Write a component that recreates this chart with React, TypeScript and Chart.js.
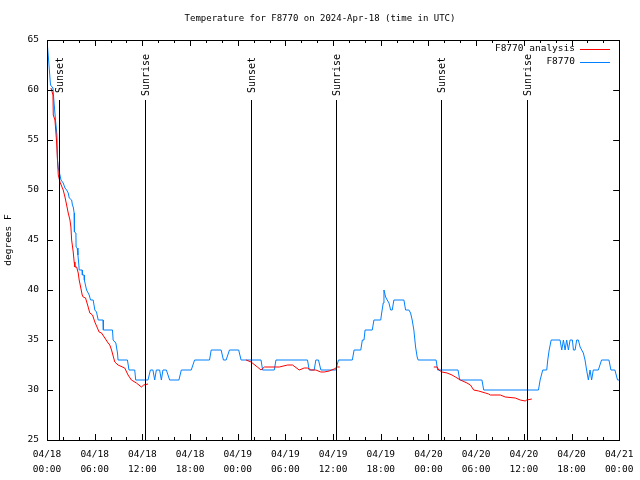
import React, { useEffect, useRef } from 'react';
import { Chart, registerables } from 'chart.js';

Chart.register(...registerables);

const FONT = "'DejaVu Sans Mono', 'Liberation Mono', monospace";

const TITLE = 'Temperature for F8770 on 2024-Apr-18 (time in UTC)';
const Y_LABEL = 'degrees F';
const SERIES_NAMES = ['F8770 analysis', 'F8770'];
const SERIES_COLORS = ['#ff0000', '#0080ff'];

const X_MIN = 0;
const X_MAX = 72;
const X_STEP = 6;
const X_MINOR_STEP = 2;
const Y_MIN = 25;
const Y_MAX = 65;
const Y_STEP = 5;

const xTickDates = ['04/18', '04/18', '04/18', '04/18', '04/19', '04/19', '04/19', '04/19', '04/20', '04/20', '04/20', '04/20', '04/21'];
const xTickTimes = ['00:00', '06:00', '12:00', '18:00', '00:00', '06:00', '12:00', '18:00', '00:00', '06:00', '12:00', '18:00', '00:00'];

const sunEventHours = [1.57, 12.35, 25.63, 36.32, 49.59, 60.4];
const sunEventLabels = ['Sunset', 'Sunrise', 'Sunset', 'Sunrise', 'Sunset', 'Sunrise'];

// hours since 2024-04-18 00:00 UTC
const stationHours = [
  0, 0.25, 0.44, 0.75, 0.88, 1.07, 1.25, 1.32, 1.42, 1.63,
  1.76, 2.04, 2.26, 2.47, 2.67, 2.8, 3.1, 3.2, 3.3, 3.42,
  3.45, 3.64, 3.66, 3.8, 3.89, 4.01, 4.05, 4.43, 4.45, 4.68,
  4.7, 4.98, 5.31, 5.48, 5.81, 6.02, 6.23, 6.44, 7.06, 7.09,
  8.24, 8.32, 8.66, 8.87, 8.94, 10.12, 10.32, 11.04, 11.16, 12.71,
  13.01, 13.33, 13.55, 13.76, 14.17, 14.39, 14.59, 15.02, 15.43, 16.6,
  16.9, 18.15, 18.57, 20.45, 20.66, 21.91, 22.2, 22.54, 22.96, 24.12,
  24.42, 26.93, 27.13, 28.6, 28.81, 32.78, 32.99, 33.62, 33.83, 34.16,
  34.46, 36.34, 36.67, 38.42, 38.64, 39.48, 39.68, 39.89, 40.02, 40.93,
  41.14, 41.99, 42.11, 42.31, 42.4, 42.61, 42.81, 43.03, 43.24, 43.44,
  43.65, 44.91, 45.12, 45.53, 45.75, 45.95, 46.16, 46.38, 46.58, 46.7,
  48.96, 49.15, 51.72, 51.93, 54.73, 54.95, 61.84, 62.05, 62.38, 62.88,
  63.01, 63.19, 63.44, 64.56, 64.77, 64.98, 65.19, 65.39, 65.61, 65.82,
  66.11, 66.24, 66.45, 66.65, 66.86, 67.08, 67.28, 67.49, 67.7, 67.9,
  68.12, 68.33, 68.53, 68.74, 69.37, 69.78, 70.71, 70.96, 71.46, 71.79,
  72,
];
const stationTemps = [
  65, 62.5, 60.5, 60.2, 58.8, 57, 55.5, 53, 52.2, 51.5,
  51, 50.7, 50.2, 50, 49.7, 49.2, 49, 48.5, 48.3, 47.7,
  45.8, 45.7, 44.3, 44.2, 43.5, 42.5, 42, 42, 41.5, 41.5,
  41, 40, 39.5, 39, 39, 38, 37.8, 37, 37, 36,
  36, 35, 34.7, 33.7, 33, 33, 32, 32, 31, 31,
  32, 32, 31, 32, 32, 31, 32, 32, 31, 31,
  32, 32, 33, 33, 34, 34, 33, 33, 34, 34,
  33, 33, 32, 32, 33, 33, 32, 32, 33, 33,
  32, 32, 33, 33, 34, 34, 35, 35, 36, 36,
  37, 37, 37.7, 38.7, 40, 39.3, 39, 38.7, 38, 38,
  39, 39, 38, 38, 37.7, 37, 36, 34.3, 33.3, 33,
  33, 32, 32, 31, 31, 30, 30, 31, 32, 32,
  33, 34, 35, 35, 34, 35, 34, 35, 34, 35,
  35, 34, 34, 35, 35, 34.3, 34, 33.7, 33, 32,
  31, 32, 31, 32, 32, 33, 33, 32, 32, 31,
  31,
];

const analysisHours = [
  0.5, 0.75, 0.79, 1.0, 1.19, 1.32, 1.42, 1.63, 2.04, 2.26,
  2.47, 2.67, 2.89, 3.01, 3.1, 3.3, 3.42, 3.51, 3.73, 3.93,
  4.05, 4.23, 4.43, 4.55, 4.85, 5.11, 5.39, 5.73, 6.02, 6.56,
  6.86, 7.28, 7.69, 7.9, 8.12, 8.53, 8.94, 9.78, 10.2, 10.62,
  11.25, 11.88, 12.17, 12.71,
  18,
  25.05, 25.68, 26.47, 26.93, 27.35, 29.23, 30.27, 30.9, 31.74, 32.36,
  32.78, 33.2, 33.83, 34.46, 34.87, 35.5, 36.13, 36.54, 36.84,
  42,
  48.67, 49.09, 49.3, 49.71, 50.34, 50.96, 51.39, 52.02, 52.85, 53.28,
  53.69, 54.32, 55.16, 55.57, 55.78, 57.04, 57.67, 58.92, 59.55, 60.17,
  60.37, 61.0,
];
const analysisTemps: (number | null)[] = [
  60.2, 59.5, 57.5, 57, 55, 53, 51.5, 50.8, 50, 49.3,
  48.5, 47.7, 47, 46.3, 45, 43.8, 42.8, 42.3, 42.3, 41.7,
  41, 40.3, 39.5, 39.3, 39.2, 38.5, 37.7, 37.5, 36.8, 35.8,
  35.7, 35.2, 34.7, 34.5, 34, 32.8, 32.5, 32.2, 31.5, 31,
  30.7, 30.3, 30.5, 30.6,
  null,
  33, 32.8, 32.3, 32, 32.3, 32.3, 32.5, 32.5, 32, 32.2,
  32.2, 32, 32, 31.8, 31.8, 31.9, 32.1, 32.3, 32.3,
  null,
  32.3, 32.3, 32, 31.8, 31.7, 31.5, 31.3, 31, 30.7, 30.5,
  30, 29.9, 29.7, 29.6, 29.5, 29.5, 29.3, 29.2, 29, 28.9,
  29, 29.1,
];

const crisp = (v: number) => Math.round(v) + 0.5;

const gnuplotFrame = {
  id: 'gnuplotFrame',
  afterDatasetsDraw(chart: any) {
    const { ctx, chartArea: a, scales } = chart;
    const xs = scales.x;
    const ys = scales.y;
    ctx.save();
    ctx.strokeStyle = '#000';
    ctx.fillStyle = '#000';
    ctx.lineWidth = 1;

    // sunrise / sunset markers
    const lineTop = a.top + 0.15 * (a.bottom - a.top);
    ctx.font = `10px ${FONT}`;
    sunEventHours.forEach((h, i) => {
      const px = crisp(xs.getPixelForValue(h));
      ctx.beginPath();
      ctx.moveTo(px, lineTop);
      ctx.lineTo(px, a.bottom);
      ctx.stroke();
      ctx.save();
      ctx.translate(px + 1, a.top + 35);
      ctx.rotate(-Math.PI / 2);
      ctx.textAlign = 'center';
      ctx.textBaseline = 'middle';
      ctx.fillText(sunEventLabels[i], 0, 0);
      ctx.restore();
    });

    // border
    ctx.strokeRect(crisp(a.left), crisp(a.top), Math.round(a.right - a.left), Math.round(a.bottom - a.top));

    // tick marks (inward, mirrored)
    const major = 6;
    const minor = 3;
    ctx.beginPath();
    ys.ticks.forEach((t: any) => {
      const py = crisp(ys.getPixelForValue(t.value));
      ctx.moveTo(a.left, py); ctx.lineTo(a.left + major, py);
      ctx.moveTo(a.right, py); ctx.lineTo(a.right - major, py);
    });
    for (let h = X_MIN; h <= X_MAX + 1e-9; h += X_MINOR_STEP) {
      const px = crisp(xs.getPixelForValue(h));
      const len = Math.abs(h % X_STEP) < 1e-9 ? major : minor;
      ctx.moveTo(px, a.bottom); ctx.lineTo(px, a.bottom - len);
      ctx.moveTo(px, a.top); ctx.lineTo(px, a.top + len);
    }
    ctx.stroke();
    ctx.restore();
  },
  afterDraw(chart: any) {
    const { ctx } = chart;
    ctx.save();
    ctx.fillStyle = '#000';
    ctx.font = `9px ${FONT}`;
    ctx.textBaseline = 'middle';
    ctx.textAlign = 'center';
    ctx.fillText(TITLE, 320, 19);

    // legend (gnuplot style: text right aligned, sample to the right)
    ctx.font = `9.5px ${FONT}`;
    ctx.textAlign = 'right';
    SERIES_NAMES.forEach((name, i) => {
      const ly = 49 + i * 13;
      ctx.fillText(name, 575, ly);
      ctx.strokeStyle = SERIES_COLORS[i];
      ctx.lineWidth = 1;
      ctx.beginPath();
      ctx.moveTo(580, crisp(ly));
      ctx.lineTo(610, crisp(ly));
      ctx.stroke();
    });
    ctx.restore();
  },
};

export default function App() {
  const canvasRef = useRef<HTMLCanvasElement | null>(null);

  useEffect(() => {
    const canvas = canvasRef.current;
    if (!canvas) return;
    const analysisData = analysisHours.map((h, i) => ({ x: h, y: analysisTemps[i] }));
    const stationData = stationHours.map((h, i) => ({ x: h, y: stationTemps[i] }));

    const chart = new Chart(canvas, {
      type: 'line',
      data: {
        datasets: [
          {
            label: SERIES_NAMES[0],
            data: analysisData as any,
            borderColor: SERIES_COLORS[0],
            borderWidth: 1,
            pointRadius: 0,
            tension: 0,
            spanGaps: false,
            fill: false,
          },
          {
            label: SERIES_NAMES[1],
            data: stationData as any,
            borderColor: SERIES_COLORS[1],
            borderWidth: 1,
            pointRadius: 0,
            tension: 0,
            fill: false,
          },
        ],
      },
      options: {
        animation: false,
        responsive: false,
        maintainAspectRatio: false,
        layout: { padding: { left: 0, top: 40, right: 19, bottom: 0 } },
        plugins: {
          legend: { display: false },
          title: { display: false },
          tooltip: { enabled: false },
        },
        scales: {
          x: {
            type: 'linear',
            min: X_MIN,
            max: X_MAX,
            afterFit: (s: any) => { s.height = 40; },
            grid: { display: false, drawTicks: false },
            border: { display: false },
            ticks: {
              stepSize: X_STEP,
              autoSkip: false,
              maxRotation: 0,
              minRotation: 0,
              padding: 6.5,
              color: '#000',
              font: { family: FONT, size: 9.5, lineHeight: 1.6 },
              callback: (v: any) => {
                const i = Math.round(Number(v) / X_STEP);
                return [xTickDates[i], xTickTimes[i]];
              },
            },
          },
          y: {
            min: Y_MIN,
            max: Y_MAX,
            afterFit: (s: any) => { s.width = 47; },
            grid: { display: false, drawTicks: false },
            border: { display: false },
            ticks: {
              stepSize: Y_STEP,
              padding: 8,
              color: '#000',
              font: { family: FONT, size: 9.5 },
            },
            title: {
              display: true,
              text: Y_LABEL,
              color: '#000',
              font: { family: FONT, size: 9.5 },
              padding: { top: 3, bottom: 0 },
            },
          },
        },
      },
      plugins: [gnuplotFrame],
    });
    return () => chart.destroy();
  }, []);

  return (
    <div style={{ position: 'absolute', left: 0, top: 0, width: 640, height: 480, background: '#fff' }}>
      <canvas ref={canvasRef} width={640} height={480} style={{ display: 'block' }} />
    </div>
  );
}
